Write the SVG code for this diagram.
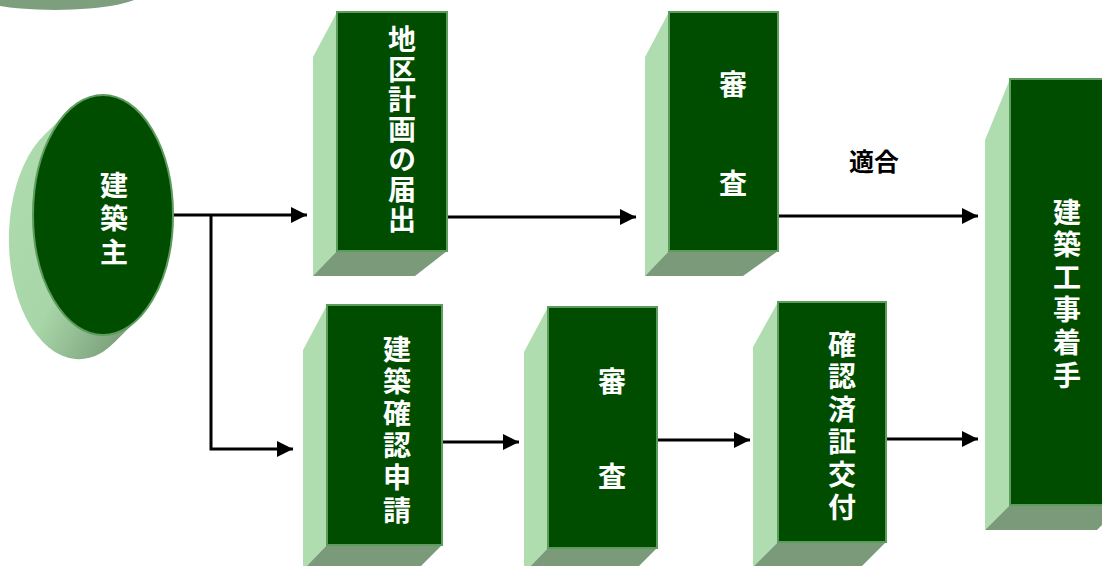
<svg xmlns="http://www.w3.org/2000/svg" width="1102" height="566" viewBox="0 0 1102 566">
<style>
.front{fill:#004d00;stroke:#5c9c5c;stroke-width:2}
.side{fill:#b0ddb0}
.bottom{fill:#7a9a7a}
.lbl{font-family:"Noto Sans CJK JP","Noto Sans CJK SC",sans-serif;font-weight:bold;font-size:28px;fill:#ffffff;writing-mode:vertical-rl;text-anchor:start}
.edge{fill:none;stroke:#000;stroke-width:3}
.elbl{font-family:"Noto Sans CJK JP","Noto Sans CJK SC",sans-serif;font-weight:bold;font-size:25px;fill:#000;text-anchor:middle}
</style>
<defs>
<marker id="ah" markerUnits="userSpaceOnUse" markerWidth="18" markerHeight="16" refX="16" refY="8" orient="auto">
<path d="M0,0 L16,8 L0,16 z" fill="#000"/>
</marker>
<linearGradient id="eg" x1="0" y1="0" x2="1" y2="1">
<stop offset="0" stop-color="#b0ddb0"/>
<stop offset="0.55" stop-color="#a8d6a8"/>
<stop offset="1" stop-color="#6e8f6e"/>
</linearGradient>
</defs>
<g id="corner">
<ellipse cx="55" cy="-9" rx="90" ry="19" fill="#7d9f7d"/>
</g>
<g id="connectors">
<path class="edge" d="M173,215 H307" marker-end="url(#ah)"/>
<path class="edge" d="M211,215 V449 H293" marker-end="url(#ah)"/>
<path class="edge" d="M447,217 H636" marker-end="url(#ah)"/>
<path class="edge" d="M778,216 H978" marker-end="url(#ah)"/>
<path class="edge" d="M442,442 H519" marker-end="url(#ah)"/>
<path class="edge" d="M657,440 H750" marker-end="url(#ah)"/>
<path class="edge" d="M886,439 H978" marker-end="url(#ah)"/>
<text class="elbl" x="874" y="171">適合</text>
</g>
<g id="owner">
<path d="M67.7,111.4 L44.7,134.4 A70,120 0 1 0 115.3,341.6 L138.3,318.6 A70,120 0 0 1 67.7,111.4 Z" fill="url(#eg)"/>
<ellipse class="front" cx="103" cy="215" rx="70" ry="120"/>
<text class="lbl" x="114" y="171" letter-spacing="5.5">建築主</text>
</g>
<g id="district-plan">
<polygon class="side" points="337,12 313,57 313,276 337,251"/>
<polygon class="bottom" points="337,251 447,251 415,276 313,276"/>
<rect class="front" x="337" y="12" width="110" height="239"/>
<text class="lbl" x="402" y="25" letter-spacing="2">地区計画の届出</text>
</g>
<g id="review-top">
<polygon class="side" points="669,12 645,57 645,276 669,251"/>
<polygon class="bottom" points="669,251 778,251 743,276 645,276"/>
<rect class="front" x="669" y="12" width="109" height="239"/>
<text class="lbl" x="733" y="70" letter-spacing="71">審査</text>
</g>
<g id="building-application">
<polygon class="side" points="327,305 303,350 303,570 327,545"/>
<polygon class="bottom" points="327,545 442,545 417,570 303,570"/>
<rect class="front" x="327" y="305" width="115" height="240"/>
<text class="lbl" x="397" y="335" letter-spacing="4.2">建築確認申請</text>
</g>
<g id="review-bottom">
<polygon class="side" points="548,307 524,352 524,573 548,548"/>
<polygon class="bottom" points="548,548 657,548 632,573 524,573"/>
<rect class="front" x="548" y="307" width="109" height="241"/>
<text class="lbl" x="612" y="367" letter-spacing="67">審査</text>
</g>
<g id="certificate">
<polygon class="side" points="778,302 753,347 753,567 778,542"/>
<polygon class="bottom" points="778,542 886,542 861,567 753,567"/>
<rect class="front" x="778" y="302" width="108" height="240"/>
<text class="lbl" x="842" y="330" letter-spacing="4.6">確認済証交付</text>
</g>
<g id="construction-start">
<polygon class="side" points="1010,79 985,140 985,530 1010,505"/>
<polygon class="bottom" points="1010,505 1122,505 1097,530 985,530"/>
<rect class="front" x="1010" y="79" width="112" height="426"/>
<text class="lbl" x="1067" y="198" letter-spacing="4.6">建築工事着手</text>
</g>
</svg>
